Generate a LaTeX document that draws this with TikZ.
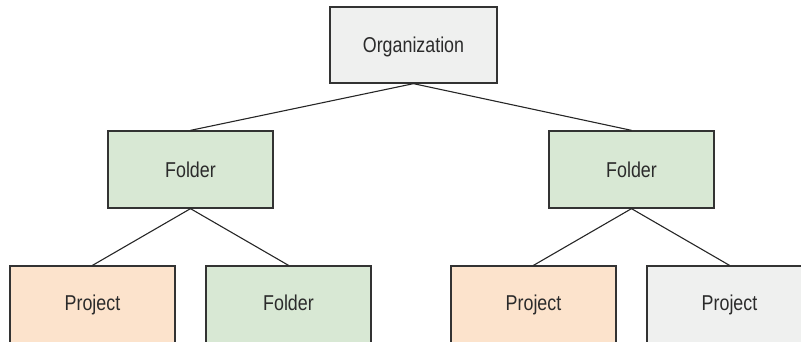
\documentclass[tikz,border=0pt]{standalone}
\usepackage{fontspec}
\setmainfont{Liberation Sans}[FakeStretch=0.83]
\definecolor{boxline}{HTML}{333333}
\definecolor{txt}{HTML}{2B2B2B}
\definecolor{grayfill}{HTML}{EFF0EF}
\definecolor{greenfill}{HTML}{D8E8D4}
\definecolor{orangefill}{HTML}{FCE3CC}
\begin{document}
\begin{tikzpicture}[x=1pt,y=-1pt,
  box/.style={draw=boxline,line width=1.3pt,minimum width=165pt,minimum height=77pt,inner sep=0pt,
    text=txt,font=\fontsize{21.5}{24}\selectfont,text height=19pt,text depth=4pt},
  lowrow/.style={text depth=8pt},
  orgbox/.style={box,fill=grayfill},
  folderbox/.style={box,fill=greenfill},
  projbox/.style={box,fill=orangefill},
  greybox/.style={box,fill=grayfill},
  link/.style={draw=black!85,line width=1.1pt}]
\useasboundingbox (0,0) rectangle (801,341);
\clip (0,0) rectangle (801,341);
\node[orgbox,minimum width=167pt,minimum height=76pt] (org) at (413.5,45) {Organization};
\node[folderbox] (fl) at (190.5,169.5) {Folder};
\node[folderbox] (fr) at (631.5,169.5) {Folder};
\node[projbox,lowrow] (p1) at (92.5,304.5) {Project};
\node[folderbox,lowrow] (f2) at (288.5,304.5) {Folder};
\node[projbox,lowrow] (p3) at (533.5,304.5) {Project};
\node[greybox,lowrow] (p4) at (729.5,304.5) {Project};
\draw[link] (org.south) -- (fl.north);
\draw[link] (org.south) -- (fr.north);
\draw[link] (fl.south) -- (p1.north);
\draw[link] (fl.south) -- (f2.north);
\draw[link] (fr.south) -- (p3.north);
\draw[link] (fr.south) -- (p4.north);
\end{tikzpicture}
\end{document}
